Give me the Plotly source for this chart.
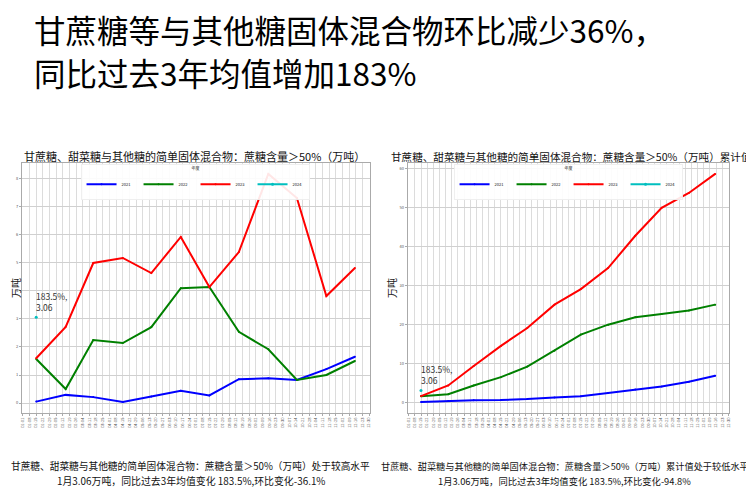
import plotly.graph_objects as go

FONT = "Noto Sans CJK SC"

# ---------------- data ----------------
months = ["2000-01-15", "2000-02-15", "2000-03-15", "2000-04-15", "2000-05-15", "2000-06-15",
          "2000-07-15", "2000-08-15", "2000-09-15", "2000-10-15", "2000-11-15", "2000-12-15"]
years = ["2021", "2022", "2023", "2024"]
colors = ["#0000FF", "#008000", "#FF0000", "#00BFBF"]

# monthly values (万吨)
m2021 = [0.05, 0.29, 0.21, 0.04, 0.23, 0.44, 0.27, 0.85, 0.88, 0.82, 1.21, 1.65]
m2022 = [1.57, 0.50, 2.25, 2.14, 2.71, 4.10, 4.14, 2.54, 1.92, 0.82, 1.00, 1.50]
m2023 = [1.60, 2.72, 5.00, 5.18, 4.64, 5.93, 4.14, 5.39, 8.18, 7.32, 3.82, 4.82]
m2024 = [3.06]

# cumulative values (万吨)
c2021 = [0.05, 0.34, 0.55, 0.59, 0.82, 1.26, 1.53, 2.38, 3.26, 4.08, 5.29, 6.80]
c2022 = [1.57, 2.07, 4.32, 6.46, 9.17, 13.27, 17.41, 19.95, 21.87, 22.69, 23.60, 25.10]
c2023 = [1.60, 4.32, 9.32, 14.50, 19.10, 25.10, 29.10, 34.50, 42.80, 50.00, 53.80, 58.70]
c2024 = [3.06]

main_title_1 = "甘蔗糖等与其他糖固体混合物环比减少36%，"
main_title_2 = "同比过去3年均值增加183%"
title_left = "甘蔗糖、甜菜糖与其他糖的简单固体混合物：蔗糖含量＞50%（万吨）"
title_right = "甘蔗糖、甜菜糖与其他糖的简单固体混合物：蔗糖含量＞50%（万吨）累计值"
note_left_1 = "甘蔗糖、甜菜糖与其他糖的简单固体混合物：蔗糖含量＞50%（万吨）处于较高水平"
note_left_2 = "1月3.06万吨，同比过去3年均值变化 183.5%,环比变化-36.1%"
note_right_1 = "甘蔗糖、甜菜糖与其他糖的简单固体混合物：蔗糖含量＞50%（万吨）累计值处于较低水平"
note_right_2 = "1月3.06万吨，同比过去3年均值变化 183.5%,环比变化-94.8%"
point_label = "183.5%,<br>3.06"
y_unit = "万吨"
legend_title = "年度"

# ---------------- figure ----------------
W, H = 754, 493
OFF = 8  # page body margin
def px_x(p): return (p - OFF) / W
def px_y(p): return 1 - (p - OFF) / H

fig = go.Figure()

left_series = [m2021, m2022, m2023, m2024]
right_series = [c2021, c2022, c2023, c2024]
for i, (yr, col) in enumerate(zip(years, colors)):
    ys = left_series[i]
    fig.add_trace(go.Scatter(
        x=months[:len(ys)], y=ys, name=yr, mode="lines+markers",
        line=dict(color=col, width=2), marker=dict(color=col, size=3 if len(ys) == 1 else 2),
        xaxis="x", yaxis="y", legend="legend"))
for i, (yr, col) in enumerate(zip(years, colors)):
    ys = right_series[i]
    fig.add_trace(go.Scatter(
        x=months[:len(ys)], y=ys, name=yr, mode="lines+markers",
        line=dict(color=col, width=2), marker=dict(color=col, size=3 if len(ys) == 1 else 2),
        xaxis="x2", yaxis="y2", legend="legend2"))

xcommon = dict(type="date", range=["1999-12-31", "2000-12-31"], tick0="2000-01-01",
               dtick=7 * 86400000, tickformat="%m-%d", tickangle=-90,
               tickfont=dict(size=4, color="#555", family=FONT),
               showgrid=True, gridcolor="#DCDCDC", gridwidth=1,
               showline=True, linecolor="#AAAAAA", mirror=True, zeroline=False,
               ticks="outside", ticklen=2, tickcolor="#AAAAAA")
ycommon = dict(tickfont=dict(size=4, color="#555", family=FONT),
               showgrid=True, gridcolor="#D0D0D0", gridwidth=1,
               showline=True, linecolor="#AAAAAA", mirror=True, zeroline=False,
               ticks="outside", ticklen=2, tickcolor="#AAAAAA",
               title=dict(text=y_unit, font=dict(size=10, color="#222", family=FONT), standoff=1))

legend_common = dict(orientation="h", xanchor="center", y=px_y(164), yanchor="top",
                     font=dict(size=4, family=FONT), bgcolor="rgba(255,255,255,0.9)",
                     bordercolor="#E0E0E0", borderwidth=0.5, itemwidth=30,
                     entrywidth=12, entrywidthmode="pixels",
                     title=dict(text=legend_title, side="top center", font=dict(size=4, family=FONT)))

fig.update_layout(
    width=W, height=H, margin=dict(l=0, r=0, t=0, b=0),
    paper_bgcolor="white", plot_bgcolor="white",
    font=dict(family=FONT, color="#111"),
    xaxis=dict(domain=[px_x(17), px_x(368)], anchor="y", **xcommon),
    yaxis=dict(domain=[px_y(413), px_y(163)], anchor="x", range=[-0.357, 8.57], dtick=1, **ycommon),
    xaxis2=dict(domain=[px_x(406), px_x(730)], anchor="y2", **xcommon),
    yaxis2=dict(domain=[px_y(413), px_y(163)], anchor="x2", range=[-2.75, 61.5], dtick=10, **ycommon),
    legend=dict(x=px_x(192), **legend_common),
    legend2=dict(x=px_x(568), **legend_common),
    showlegend=True,
)

def paper_text(text, x, y, size, xanchor="center", yanchor="middle", align="center", color="#111"):
    return dict(text=text, x=px_x(x), y=px_y(y), xref="paper", yref="paper",
                xanchor=xanchor, yanchor=yanchor, align=align, showarrow=False,
                font=dict(size=size, color=color, family=FONT))

ann = [
    paper_text(main_title_1, 27, 29, 31.5, xanchor="left", align="left", color="#000"),
    paper_text(main_title_2, 27, 72, 31.5, xanchor="left", align="left", color="#000"),
    paper_text(title_left, 191, 156, 11.0),
    paper_text(title_right, 571, 156, 10.6),
    paper_text(note_left_1, 187, 466, 9.7),
    paper_text(note_left_2, 187, 481, 9.9),
    paper_text(note_right_1, 564, 466, 9.2),
    paper_text(note_right_2, 564, 481, 9.3),
]
ann.append(dict(text=point_label, x=months[0], y=m2024[0], xref="x", yref="y",
                xanchor="left", yanchor="bottom", align="left", showarrow=False, yshift=2, xshift=-2,
                font=dict(size=8.5, color="#333", family=FONT)))
ann.append(dict(text=point_label, x=months[0], y=c2024[0], xref="x2", yref="y2",
                xanchor="left", yanchor="bottom", align="left", showarrow=False, yshift=2, xshift=-2,
                font=dict(size=8.5, color="#333", family=FONT)))
fig.update_layout(annotations=ann)

fig.write_html("out.html")
